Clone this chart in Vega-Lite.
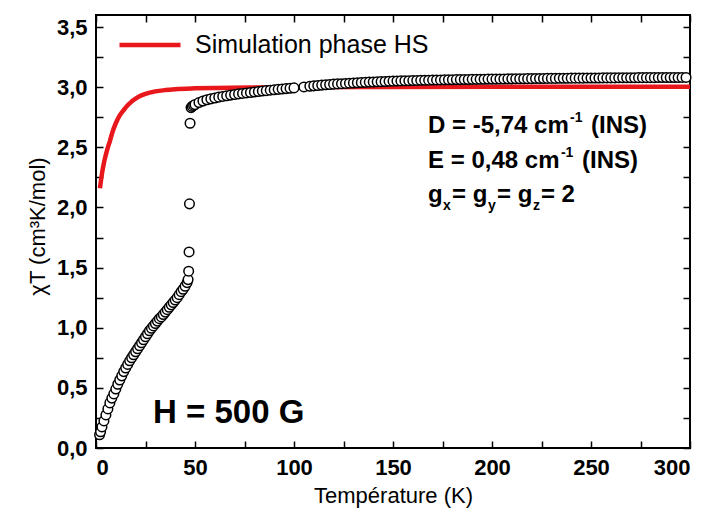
{
  "$schema": "https://vega.github.io/schema/vega-lite/v6.json",
  "width": 594,
  "height": 433,
  "autosize": {"type": "none"},
  "padding": {"left": 96, "top": 15, "right": 20, "bottom": 65},
  "background": "white",
  "config": {
    "font": "Liberation Sans",
    "view": {"stroke": "black", "strokeWidth": 2},
    "axis": {"domain": false, "grid": false, "tickColor": "black", "tickWidth": 1.5, "labelColor": "black", "titleColor": "black", "labelFont": "Liberation Sans", "titleFont": "Liberation Sans"},
    "legend": {"orient": "none", "legendX": 21, "legendY": -3, "padding": 0, "title": null, "symbolType": "stroke", "symbolSize": 3721, "symbolStrokeWidth": 4.5, "labelFontSize": 25, "labelOffset": 12, "labelLimit": 0, "labelColor": "black", "labelFont": "Liberation Sans"}
  },
  "datasets": {
    "exp": [
      {"T": 1.8, "chiT": 0.11}, {"T": 2.3, "chiT": 0.135}, {"T": 3, "chiT": 0.175}, {"T": 4, "chiT": 0.225}, {"T": 5, "chiT": 0.275},
      {"T": 6, "chiT": 0.325}, {"T": 7, "chiT": 0.375}, {"T": 8, "chiT": 0.415}, {"T": 9, "chiT": 0.45}, {"T": 10, "chiT": 0.49},
      {"T": 11, "chiT": 0.53}, {"T": 12, "chiT": 0.565}, {"T": 13, "chiT": 0.6}, {"T": 14, "chiT": 0.635}, {"T": 15, "chiT": 0.665},
      {"T": 16, "chiT": 0.695}, {"T": 17, "chiT": 0.725}, {"T": 18, "chiT": 0.75}, {"T": 19, "chiT": 0.775}, {"T": 20, "chiT": 0.8},
      {"T": 21, "chiT": 0.825}, {"T": 22, "chiT": 0.85}, {"T": 23, "chiT": 0.875}, {"T": 24, "chiT": 0.9}, {"T": 25, "chiT": 0.925},
      {"T": 26, "chiT": 0.95}, {"T": 27, "chiT": 0.975}, {"T": 28, "chiT": 0.995}, {"T": 29, "chiT": 1.015}, {"T": 30, "chiT": 1.035},
      {"T": 31, "chiT": 1.055}, {"T": 32, "chiT": 1.075}, {"T": 33, "chiT": 1.09}, {"T": 34, "chiT": 1.11}, {"T": 35, "chiT": 1.13},
      {"T": 36, "chiT": 1.15}, {"T": 37, "chiT": 1.17}, {"T": 38, "chiT": 1.19}, {"T": 39, "chiT": 1.21}, {"T": 40, "chiT": 1.23},
      {"T": 41, "chiT": 1.25}, {"T": 42, "chiT": 1.275}, {"T": 43, "chiT": 1.3}, {"T": 44, "chiT": 1.32}, {"T": 45, "chiT": 1.345},
      {"T": 46, "chiT": 1.375}, {"T": 46.5, "chiT": 1.4}, {"T": 46.8, "chiT": 1.47}, {"T": 47, "chiT": 1.63}, {"T": 47.2, "chiT": 2.03},
      {"T": 47.5, "chiT": 2.7}, {"T": 48, "chiT": 2.83}, {"T": 48.6, "chiT": 2.84}, {"T": 49.3, "chiT": 2.848},
      {"T": 50, "chiT": 2.855}, {"T": 52, "chiT": 2.872}, {"T": 54, "chiT": 2.885}, {"T": 56, "chiT": 2.895}, {"T": 58, "chiT": 2.903},
      {"T": 60, "chiT": 2.91}, {"T": 62, "chiT": 2.917}, {"T": 64, "chiT": 2.923}, {"T": 66, "chiT": 2.929}, {"T": 68, "chiT": 2.934},
      {"T": 70, "chiT": 2.939}, {"T": 72, "chiT": 2.944}, {"T": 74, "chiT": 2.948}, {"T": 76, "chiT": 2.952}, {"T": 78, "chiT": 2.956},
      {"T": 80, "chiT": 2.96}, {"T": 82, "chiT": 2.964}, {"T": 84, "chiT": 2.968}, {"T": 86, "chiT": 2.971}, {"T": 88, "chiT": 2.975},
      {"T": 90, "chiT": 2.978}, {"T": 92, "chiT": 2.982}, {"T": 94, "chiT": 2.985}, {"T": 96, "chiT": 2.988}, {"T": 98, "chiT": 2.991},
      {"T": 100, "chiT": 2.994}, {"T": 105, "chiT": 3.002}, {"T": 108, "chiT": 3.008}, {"T": 110, "chiT": 3.011}, {"T": 112, "chiT": 3.014},
      {"T": 114, "chiT": 3.017}, {"T": 116, "chiT": 3.02}, {"T": 118, "chiT": 3.022}, {"T": 120, "chiT": 3.025}, {"T": 122, "chiT": 3.027},
      {"T": 124, "chiT": 3.029}, {"T": 126, "chiT": 3.031}, {"T": 128, "chiT": 3.033}, {"T": 130, "chiT": 3.035}, {"T": 132, "chiT": 3.037},
      {"T": 134, "chiT": 3.039}, {"T": 136, "chiT": 3.04}, {"T": 138, "chiT": 3.042}, {"T": 140, "chiT": 3.043}, {"T": 142, "chiT": 3.045},
      {"T": 144, "chiT": 3.046}, {"T": 146, "chiT": 3.047}, {"T": 148, "chiT": 3.049}, {"T": 150, "chiT": 3.05}, {"T": 152, "chiT": 3.051},
      {"T": 154, "chiT": 3.052}, {"T": 156, "chiT": 3.053}, {"T": 158, "chiT": 3.054}, {"T": 160, "chiT": 3.055}, {"T": 162, "chiT": 3.056},
      {"T": 164, "chiT": 3.057}, {"T": 166, "chiT": 3.057}, {"T": 168, "chiT": 3.058}, {"T": 170, "chiT": 3.059}, {"T": 172, "chiT": 3.06},
      {"T": 174, "chiT": 3.06}, {"T": 176, "chiT": 3.061}, {"T": 178, "chiT": 3.062}, {"T": 180, "chiT": 3.062}, {"T": 182, "chiT": 3.063},
      {"T": 184, "chiT": 3.063}, {"T": 186, "chiT": 3.064}, {"T": 188, "chiT": 3.064}, {"T": 190, "chiT": 3.065}, {"T": 192, "chiT": 3.065},
      {"T": 194, "chiT": 3.066}, {"T": 196, "chiT": 3.066}, {"T": 198, "chiT": 3.067}, {"T": 200, "chiT": 3.067}, {"T": 202, "chiT": 3.067},
      {"T": 204, "chiT": 3.068}, {"T": 206, "chiT": 3.068}, {"T": 208, "chiT": 3.069}, {"T": 210, "chiT": 3.069}, {"T": 212, "chiT": 3.07},
      {"T": 214, "chiT": 3.07}, {"T": 216, "chiT": 3.07}, {"T": 218, "chiT": 3.071}, {"T": 220, "chiT": 3.071}, {"T": 222, "chiT": 3.072},
      {"T": 224, "chiT": 3.072}, {"T": 226, "chiT": 3.072}, {"T": 228, "chiT": 3.073}, {"T": 230, "chiT": 3.073}, {"T": 232, "chiT": 3.073},
      {"T": 234, "chiT": 3.074}, {"T": 236, "chiT": 3.074}, {"T": 238, "chiT": 3.074}, {"T": 240, "chiT": 3.075}, {"T": 242, "chiT": 3.075},
      {"T": 244, "chiT": 3.075}, {"T": 246, "chiT": 3.075}, {"T": 248, "chiT": 3.076}, {"T": 250, "chiT": 3.076}, {"T": 252, "chiT": 3.076},
      {"T": 254, "chiT": 3.076}, {"T": 256, "chiT": 3.077}, {"T": 258, "chiT": 3.077}, {"T": 260, "chiT": 3.077}, {"T": 262, "chiT": 3.077},
      {"T": 264, "chiT": 3.078}, {"T": 266, "chiT": 3.078}, {"T": 268, "chiT": 3.078}, {"T": 270, "chiT": 3.078}, {"T": 272, "chiT": 3.078},
      {"T": 274, "chiT": 3.079}, {"T": 276, "chiT": 3.079}, {"T": 278, "chiT": 3.079}, {"T": 280, "chiT": 3.079}, {"T": 282, "chiT": 3.079},
      {"T": 284, "chiT": 3.08}, {"T": 286, "chiT": 3.08}, {"T": 288, "chiT": 3.08}, {"T": 290, "chiT": 3.08}, {"T": 292, "chiT": 3.08},
      {"T": 294, "chiT": 3.08}, {"T": 296, "chiT": 3.081}, {"T": 298, "chiT": 3.081}
    ],
    "sim": [
      {"T": 2, "chiT": 2.16}, {"T": 3, "chiT": 2.28}, {"T": 4, "chiT": 2.37}, {"T": 5, "chiT": 2.44}, {"T": 6, "chiT": 2.5},
      {"T": 7, "chiT": 2.55}, {"T": 8, "chiT": 2.61}, {"T": 10, "chiT": 2.7}, {"T": 12, "chiT": 2.765}, {"T": 14, "chiT": 2.81},
      {"T": 16, "chiT": 2.85}, {"T": 18, "chiT": 2.88}, {"T": 20, "chiT": 2.905}, {"T": 22, "chiT": 2.925}, {"T": 25, "chiT": 2.945},
      {"T": 30, "chiT": 2.965}, {"T": 35, "chiT": 2.976}, {"T": 40, "chiT": 2.983}, {"T": 50, "chiT": 2.99}, {"T": 60, "chiT": 2.994},
      {"T": 80, "chiT": 2.998}, {"T": 100, "chiT": 3.0}, {"T": 150, "chiT": 3.002}, {"T": 200, "chiT": 3.003}, {"T": 250, "chiT": 3.003},
      {"T": 300, "chiT": 3.003}
    ],
    "notes": [
      {"T": 167.7, "v": 2.619, "txt": "D = -5,74 cm", "kind": "main"},
      {"T": 239.4, "v": 2.71, "txt": "-1", "kind": "small"},
      {"T": 250.0, "v": 2.619, "txt": "(INS)", "kind": "main"},
      {"T": 167.7, "v": 2.328, "txt": "E = 0,48 cm", "kind": "main"},
      {"T": 234.8, "v": 2.419, "txt": "-1", "kind": "small"},
      {"T": 245.5, "v": 2.328, "txt": "(INS)", "kind": "main"},
      {"T": 167.7, "v": 2.045, "txt": "g", "kind": "main"},
      {"T": 175.3, "v": 1.979, "txt": "x", "kind": "small"},
      {"T": 179.8, "v": 2.045, "txt": "= g", "kind": "main"},
      {"T": 198.0, "v": 1.979, "txt": "y", "kind": "small"},
      {"T": 202.5, "v": 2.045, "txt": "= g", "kind": "main"},
      {"T": 220.7, "v": 1.979, "txt": "z", "kind": "small"},
      {"T": 224.7, "v": 2.045, "txt": "= 2", "kind": "main"},
      {"T": 28.8, "v": 0.208, "txt": "H = 500 G", "kind": "big"}
    ]
  },
  "resolve": {"axis": {"x": "independent", "y": "independent"}},
  "layer": [
    {
      "data": {"name": "sim"},
      "mark": {"type": "point", "opacity": 0},
      "encoding": {
        "x": {"field": "T", "type": "quantitative", "scale": {"domain": [0, 300], "nice": false, "zero": false},
          "axis": {"orient": "top", "values": [0, 25, 50, 75, 100, 125, 150, 175, 200, 225, 250, 275, 300], "labels": false, "tickSize": -7, "title": null}},
        "y": {"field": "chiT", "type": "quantitative", "scale": {"domain": [0, 3.6], "nice": false, "zero": false},
          "axis": {"orient": "right", "values": [0, 0.25, 0.5, 0.75, 1, 1.25, 1.5, 1.75, 2, 2.25, 2.5, 2.75, 3, 3.25, 3.5], "labels": false, "tickSize": -7, "title": null}}
      }
    },
    {
      "data": {"name": "sim"},
      "mark": {"type": "line", "strokeWidth": 4.5, "interpolate": "monotone"},
      "encoding": {
        "x": {"field": "T", "type": "quantitative", "axis": null},
        "y": {"field": "chiT", "type": "quantitative", "axis": null},
        "color": {"datum": "Simulation phase HS", "type": "nominal", "scale": {"range": ["#e8171c"]}}
      }
    },
    {
      "data": {"name": "exp"},
      "mark": {"type": "circle", "fill": "white", "stroke": "black", "strokeWidth": 1.5, "size": 92, "opacity": 1},
      "encoding": {
        "x": {"field": "T", "type": "quantitative",
          "axis": {"orient": "bottom", "values": [0, 25, 50, 75, 100, 125, 150, 175, 200, 225, 250, 275, 300], "tickSize": -7, "labelPadding": 16,
            "labelExpr": "datum.value % 50 === 0 ? datum.label : ''", "labelFontSize": 22, "labelFontWeight": "bold",
            "title": "Température (K)", "titleFontSize": 22, "titleFontWeight": "normal", "titlePadding": 7}},
        "y": {"field": "chiT", "type": "quantitative",
          "axis": {"orient": "left", "values": [0, 0.25, 0.5, 0.75, 1, 1.25, 1.5, 1.75, 2, 2.25, 2.5, 2.75, 3, 3.25, 3.5], "tickSize": -7, "labelPadding": 16,
            "labelExpr": "abs(datum.value * 2 - round(datum.value * 2)) < 0.001 ? replace(format(datum.value, '.1f'), '.', ',') : ''",
            "labelFontSize": 22, "labelFontWeight": "bold",
            "title": "χT (cm³K/mol)", "titleFontSize": 22, "titleFontWeight": "normal", "titlePadding": 7, "titleY": 211}}
      }
    },
    {
      "data": {"name": "notes"},
      "transform": [{"filter": "datum.kind === 'main'"}],
      "mark": {"type": "text", "align": "left", "baseline": "alphabetic", "fontSize": 24, "fontWeight": "bold", "color": "black"},
      "encoding": {
        "x": {"field": "T", "type": "quantitative", "axis": null},
        "y": {"field": "v", "type": "quantitative", "axis": null},
        "text": {"field": "txt"}
      }
    },
    {
      "data": {"name": "notes"},
      "transform": [{"filter": "datum.kind === 'small'"}],
      "mark": {"type": "text", "align": "left", "baseline": "alphabetic", "fontSize": 14, "fontWeight": "bold", "color": "black"},
      "encoding": {
        "x": {"field": "T", "type": "quantitative", "axis": null},
        "y": {"field": "v", "type": "quantitative", "axis": null},
        "text": {"field": "txt"}
      }
    },
    {
      "data": {"name": "notes"},
      "transform": [{"filter": "datum.kind === 'big'"}],
      "mark": {"type": "text", "align": "left", "baseline": "alphabetic", "fontSize": 33, "fontWeight": "bold", "color": "black"},
      "encoding": {
        "x": {"field": "T", "type": "quantitative", "axis": null},
        "y": {"field": "v", "type": "quantitative", "axis": null},
        "text": {"field": "txt"}
      }
    }
  ]
}
